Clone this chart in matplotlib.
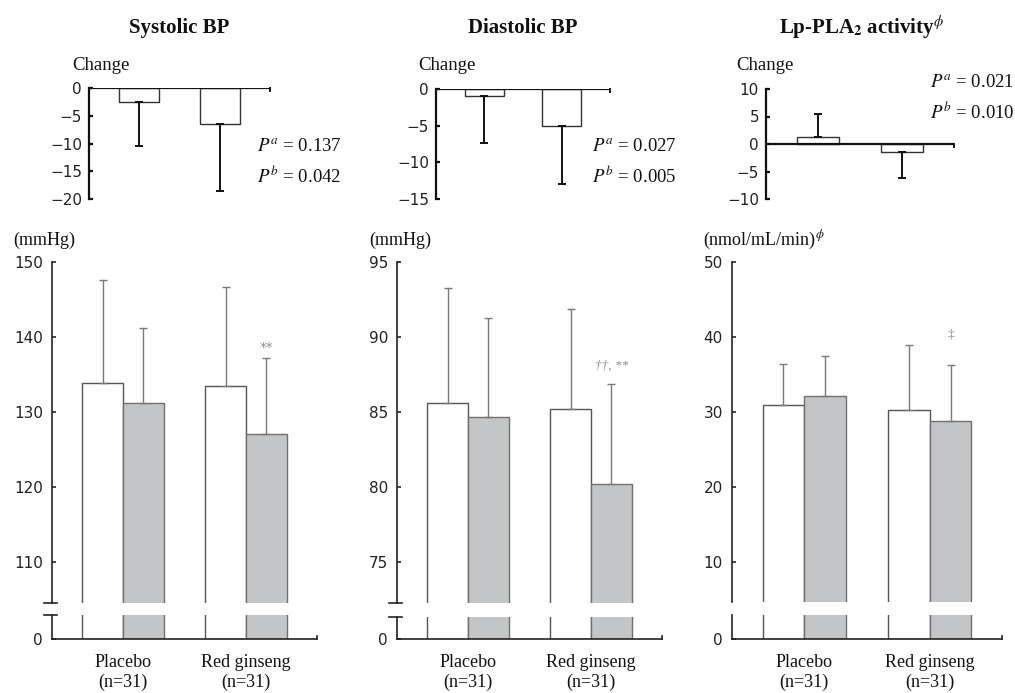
import matplotlib
matplotlib.use('Agg')
import matplotlib.pyplot as plt
from matplotlib.lines import Line2D

W, H = 1015, 693

# data
groups = ['Placebo\n(n=31)', 'Red ginseng\n(n=31)']

sbp_change = [-2.6, -6.5]
sbp_change_sd = [7.9, 12.0]
dbp_change = [-1.0, -5.0]
dbp_change_sd = [6.3, 8.0]
lp_change = [1.2, -1.5]
lp_change_sd = [4.3, 4.7]

sbp_before = [133.8, 133.5]
sbp_before_sd = [13.8, 13.2]
sbp_after = [131.2, 127.0]
sbp_after_sd = [10.0, 10.2]

dbp_before = [85.6, 85.2]
dbp_before_sd = [7.7, 6.7]
dbp_after = [84.7, 80.2]
dbp_after_sd = [6.6, 6.7]

lp_before = [30.9, 30.3]
lp_before_sd = [5.5, 8.7]
lp_after = [32.1, 28.8]
lp_after_sd = [5.4, 7.5]

titles = ['Systolic BP', 'Diastolic BP', r'Lp-PLA$_\mathbf{2}$ activity$^{\phi}$']
units = ['(mmHg)', '(mmHg)', r'(nmol/mL/min)$^{\phi}$']
pvals = [('0.137', '0.042'), ('0.027', '0.005'), ('0.021', '0.010')]
marks = ['**', '††, **', '‡']

plt.rcParams['mathtext.fontset'] = 'stix'
plt.rcParams['font.family'] = 'DejaVu Sans'
SERIF = 'Liberation Serif'

fig = plt.figure(figsize=(W / 100, H / 100), dpi=100)


def rect(x0, x1, ytop, ybot):
    return [x0 / W, 1 - ybot / H, (x1 - x0) / W, (ybot - ytop) / H]


def figline(xs, ys, **kw):
    fig.add_artist(Line2D([x / W for x in xs], [1 - y / H for y in ys],
                          transform=fig.transFigure, **kw))


def style_left(ax, lw, color, pad):
    for s in ['top', 'right', 'bottom']:
        ax.spines[s].set_visible(False)
    ax.spines['left'].set_linewidth(lw)
    ax.spines['left'].set_color(color)
    ax.tick_params(axis='y', direction='in', length=3, width=lw, color=color,
                   labelsize=11, labelcolor='#222222', pad=pad)
    ax.tick_params(axis='x', length=0)


# ---------- top "change" panels ----------
change_info = [
    (sbp_change, sbp_change_sd, (89, 270, 88, 199), (-20, 0), [0, -5, -10, -15, -20]),
    (dbp_change, dbp_change_sd, (436, 610, 89, 199), (-15, 0), [0, -5, -10, -15]),
    (lp_change, lp_change_sd, (766, 954, 89, 199), (-10, 10), [10, 5, 0, -5, -10]),
]
ptext_pos = [(257, 147), (592, 147), (930, 83)]
change_lab = [72, 418, 736]
title_x = [179, 523, 862]

for i, (vals, sds, box, ylim, ticks) in enumerate(change_info):
    ax = fig.add_axes(rect(*box))
    x = [1, 2]
    ax.bar(x, vals, width=0.5, color='white', edgecolor='#333333', linewidth=1.0, zorder=2)
    lo = [s if v < 0 else 0 for v, s in zip(vals, sds)]
    hi = [s if v >= 0 else 0 for v, s in zip(vals, sds)]
    ax.errorbar(x, vals, yerr=[lo, hi], fmt='none', ecolor='#111111',
                elinewidth=1.4, capsize=3.2, capthick=1.4, zorder=3)
    ax.axhline(0, color='#111111', lw=1.6, zorder=4)
    ax.set_xlim(0.38, 2.62)
    ax.set_ylim(*ylim)
    ax.set_yticks(ticks)
    ax.set_xticks([])
    style_left(ax, 1.6, '#111111', 5)
    ax.patch.set_visible(False)
    # small end mark on the zero line
    y0 = box[2] + (ylim[1] - 0) / (ylim[1] - ylim[0]) * (box[3] - box[2])
    figline([box[1], box[1]], [y0, y0 + 3], color='#111111', lw=1.4)

    fig.text(change_lab[i] / W, 1 - 66 / H, 'Change', family=SERIF, fontsize=13.5,
             ha='left', va='center', color='#111111')
    px, py = ptext_pos[i]
    fig.text(px / W, 1 - py / H, r'$P^a$ = ' + pvals[i][0], family=SERIF,
             fontsize=13.5, ha='left', va='center', color='#111111')
    fig.text(px / W, 1 - (py + 29) / H, r'$P^b$ = ' + pvals[i][1], family=SERIF,
             fontsize=13.5, ha='left', va='center', color='#111111')
    fig.text(title_x[i] / W, 1 - 28 / H, titles[i], family=SERIF, fontsize=15,
             fontweight='bold', ha='center', va='center', color='#111111')

# ---------- bottom main panels ----------
main_info = [
    (sbp_before, sbp_before_sd, sbp_after, sbp_after_sd, (52, 317),
     (104.53, 150), [110, 120, 130, 140, 150], (603, 615), (0, 3.2), True, 10),
    (dbp_before, dbp_before_sd, dbp_after, dbp_after_sd, (397, 662),
     (72.27, 95), [75, 80, 85, 90, 95], (603, 617), (0, 1.4), True, 18),
    (lp_before, lp_before_sd, lp_after, lp_after_sd, (732, 1002),
     (4.67, 50), [10, 20, 30, 40, 50], (602, 615), (0, 3.2), False, 30),
]
unit_x = [13, 369, 703]
w = 0.333

for i, (b, bsd, a, asd, (x0, x1), ylim, ticks, (yb, yl), ylim2, brk, off) in enumerate(main_info):
    up = fig.add_axes(rect(x0, x1, 262, yb))
    low = fig.add_axes(rect(x0, x1, yl, 639))
    xw = [g - w / 2 for g in (1, 2)]
    xg = [g + w / 2 for g in (1, 2)]
    for ax in (up, low):
        ax.bar(xw, b, width=w, color='white', edgecolor='#555555', linewidth=1.0, zorder=2)
        ax.bar(xg, a, width=w, color='#c4c5c7', edgecolor='#707070', linewidth=1.0, zorder=2)
        ax.set_xlim(0.423, 2.577)
        ax.patch.set_visible(False)
    up.errorbar(xw, b, yerr=[[0, 0], bsd], fmt='none', ecolor='#7a7a7a',
                elinewidth=1.0, capsize=2.6, capthick=1.0, zorder=3)
    up.errorbar(xg, a, yerr=[[0, 0], asd], fmt='none', ecolor='#7a7a7a',
                elinewidth=1.0, capsize=2.6, capthick=1.0, zorder=3)
    up.set_ylim(*ylim)
    up.set_yticks(ticks)
    up.set_xticks([])
    style_left(up, 1.2, '#222222', 6.5)

    low.set_ylim(*ylim2)
    low.set_yticks([0])
    style_left(low, 1.2, '#222222', 6.5)
    low.spines['bottom'].set_visible(True)
    low.spines['bottom'].set_linewidth(1.2)
    low.spines['bottom'].set_color('#222222')
    low.set_xticks([1, 2])
    low.set_xticklabels(groups, family=SERIF, fontsize=13, color='#111111',
                        linespacing=1.25)
    low.tick_params(axis='x', pad=10.5)
    figline([x1, x1], [639, 636], color='#222222', lw=1.2)

    if brk:
        figline([x0 - 8, x0 + 5], [yb, yb], color='#222222', lw=1.2)
        figline([x0 - 8, x0 + 5], [yl, yl], color='#222222', lw=1.2)

    # significance mark over the red ginseng follow-up bar
    up.annotate(marks[i], (xg[1], a[1] + asd[1]), xytext=(0, off * 0.72),
                textcoords='offset points', ha='center', va='center',
                fontsize=9.5, color='#8a8a8a',
                family=SERIF if i > 0 else 'DejaVu Sans',
                style='italic' if i == 1 else 'normal')

    fig.text(unit_x[i] / W, 1 - 240 / H, units[i], family=SERIF, fontsize=13,
             ha='left', va='center', color='#111111')

fig.savefig('out.png', dpi=100)
